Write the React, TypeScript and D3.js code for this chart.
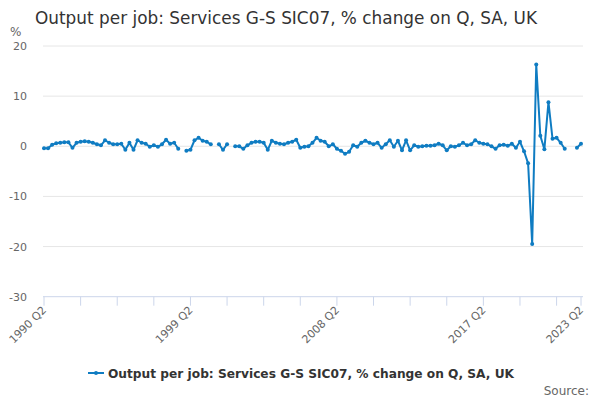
import { useMemo } from 'react';
import * as d3 from 'd3';

const WIDTH = 600;
const HEIGHT = 400;
const PLOT = { left: 44, right: 581, top: 46, bottom: 296.7 };
const LINE_COLOR = '#0f7cc2';
const FONT = '"DejaVu Sans", Verdana, sans-serif';

const TITLE = 'Output per job: Services G-S SIC07, % change on Q, SA, UK';
const FIRST_YEAR = 1990;
const FIRST_QUARTER = 2;

// % change on previous quarter, 1990 Q2 .. 2023 Q2 (null = no value)
const values: (number | null)[] = [
  -0.4, -0.4, 0.3, 0.6, 0.7, 0.8, 0.8, -0.3, 0.7, 0.9,
  1.0, 0.9, 0.7, 0.4, 0.2, 1.2, 0.7, 0.4, 0.4, 0.5,
  -0.7, 0.7, -0.7, 1.2, 0.7, 0.5, -0.1, 0.2, -0.1, 0.4,
  1.3, 0.5, 0.7, -0.5, null, -0.9, -0.7, 1.2, 1.7, 1.1,
  0.9, 0.4, null, 0.4, -0.7, 0.4, null, 0.0, 0.0, -0.5,
  0.2, 0.7, 0.9, 0.9, 0.7, -0.7, 1.1, 0.7, 0.5, 0.4,
  0.7, 0.9, 1.3, -0.3, -0.1, 0.0, 0.7, 1.7, 1.1, 0.9,
  0.0, 0.4, -0.5, -0.9, -1.5, -1.1, 0.2, -0.1, 0.7, 1.1,
  0.7, 0.4, 0.7, -0.3, 0.4, 1.2, -0.1, 1.1, -0.8, 1.2,
  -0.8, 0.2, -0.1, 0.0, 0.1, 0.1, 0.2, 0.5, 0.2, -0.8,
  0.0, -0.1, 0.2, 0.7, 0.2, 0.4, 1.2, 0.7, 0.5, 0.4,
  0.0, -0.5, 0.2, 0.3, 0.1, 0.5, -0.3, 0.9, -1.0, -3.4,
  -19.5, 16.3, 2.1, -0.6, 8.8, 1.5, 1.7, 0.7, -0.5, null,
  null, -0.3, 0.5,
];

const quarters = values.map((_, i) => {
  const q = FIRST_QUARTER - 1 + i;
  return `${FIRST_YEAR + Math.floor(q / 4)} Q${(q % 4) + 1}`;
});

const yTicks = [20, 10, 0, -10, -20, -30];
const tickEvery = 9;
const xLabels = ['1990 Q2', '1999 Q2', '2008 Q2', '2017 Q2', '2023 Q2'];

export default function App() {
  const x = useMemo(
    () => d3.scalePoint<string>().domain(quarters).range([PLOT.left, PLOT.right]),
    []
  );
  const y = useMemo(
    () => d3.scaleLinear().domain([-30, 20]).range([PLOT.bottom, PLOT.top]),
    []
  );

  const line = d3
    .line<number | null>()
    .defined((d) => d !== null)
    .x((_, i) => x(quarters[i]) ?? 0)
    .y((d) => y(d as number));

  const tickQuarters = quarters.filter(
    (_, i) => i % tickEvery === 0 || i === quarters.length - 1
  );

  return (
    <div style={{ position: 'absolute', left: 0, top: 0 }}>
      <svg width={WIDTH} height={HEIGHT} style={{ fontFamily: FONT, display: 'block' }}>
        <rect width={WIDTH} height={HEIGHT} fill="#fff" />
        <text x={35} y={24} fontSize={16.9} fill="#333">
          {TITLE}
        </text>

        {/* y grid + labels */}
        {yTicks.map((t) => (
          <g key={t}>
            {t !== -30 && (
              <line
                x1={PLOT.left - 1}
                x2={PLOT.right + 2}
                y1={y(t)}
                y2={y(t)}
                stroke="#e6e6e6"
                strokeWidth={1}
              />
            )}
            <text x={27} y={y(t) + 4} textAnchor="end" fontSize={11} fill="#666">
              {t}
            </text>
          </g>
        ))}
        <text x={10} y={36} fontSize={12} fill="#666">
          %
        </text>

        {/* x axis */}
        <line
          x1={PLOT.left - 1}
          x2={PLOT.right + 2}
          y1={PLOT.bottom}
          y2={PLOT.bottom}
          stroke="#ccd6eb"
          strokeWidth={1}
        />
        {tickQuarters.map((q) => (
          <line
            key={q}
            x1={x(q)}
            x2={x(q)}
            y1={PLOT.bottom}
            y2={PLOT.bottom + 9}
            stroke="#ccd6eb"
            strokeWidth={1}
          />
        ))}
        {xLabels.map((q) => (
          <text
            key={q}
            transform={`translate(${(x(q) ?? 0) + 3},${PLOT.bottom + 14}) rotate(-45)`}
            textAnchor="end"
            fontSize={11}
            fill="#666"
          >
            {q}
          </text>
        ))}

        {/* series */}
        <path
          d={line(values) ?? ''}
          fill="none"
          stroke={LINE_COLOR}
          strokeWidth={2}
          strokeLinejoin="round"
          strokeLinecap="round"
        />
        {values.map((v, i) =>
          v === null ? null : (
            <circle key={i} cx={x(quarters[i])} cy={y(v)} r={2} fill={LINE_COLOR} />
          )
        )}

        {/* legend */}
        <g transform="translate(88,373)">
          <line x1={0} x2={16} y1={0} y2={0} stroke={LINE_COLOR} strokeWidth={2} />
          <circle cx={8} cy={0} r={2} fill={LINE_COLOR} />
          <text x={20} y={5} fontSize={12.2} fontWeight="bold" fill="#333">
            {TITLE}
          </text>
        </g>

        <text x={589} y={395} textAnchor="end" fontSize={12} fill="#666">
          Source:
        </text>
      </svg>
    </div>
  );
}
